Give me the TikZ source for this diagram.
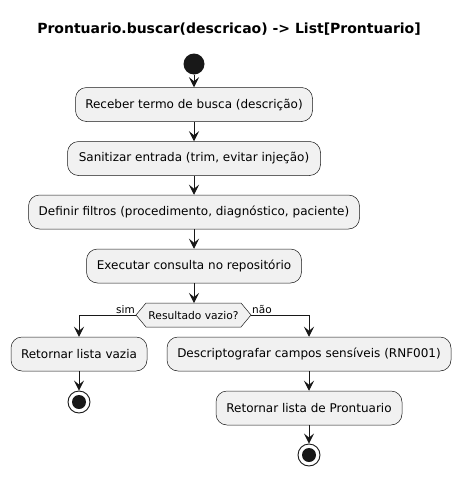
\documentclass[tikz,border=0pt]{standalone}
\usepackage{fontspec}
\setmainfont{DejaVu Sans}
\usetikzlibrary{arrows.meta}
\definecolor{fillc}{HTML}{F1F1F1}
\definecolor{linec}{HTML}{181818}
\tikzset{
  act/.style={draw=linec, line width=0.5pt, fill=fillc, rounded corners=11pt, minimum height=34pt, inner sep=0pt, font=\fontsize{12}{14}\selectfont, text=black},
  flow/.style={draw=linec, line width=0.9pt, -{Stealth[length=10pt, width=10pt, inset=4pt]}},
  lbl/.style={font=\fontsize{10.5}{12}\selectfont, inner sep=1pt}
}
\begin{document}
\begin{tikzpicture}[x=1pt,y=-1pt]
\useasboundingbox (0,0) rectangle (461,477);
\node[font=\bfseries\fontsize{14}{16}\selectfont] (title) at (229,29) {Prontuario.buscar(descricao) -> List[Prontuario]};
\node[circle, fill=linec, minimum size=21pt, inner sep=0pt] (start) at (194,64) {};
\node[act, minimum width=237pt] (b1) at (194,104.5) {Receber termo de busca (descrição)};
\node[act, minimum width=253pt] (b2) at (194,158.5) {Sanitizar entrada (trim, evitar injeção)};
\node[act, minimum width=331pt] (b3) at (194,212) {Definir filtros (procedimento, diagnóstico, paciente)};
\node[act, minimum width=215pt] (b4) at (194,266) {Executar consulta no repositório};
% decision hexagon
\draw[draw=linec, line width=0.5pt, fill=fillc] (136,315) -- (146,303) -- (241,303) -- (251,315) -- (241,327) -- (146,327) -- cycle;
\node[font=\fontsize{10.7}{12}\selectfont, inner sep=0pt] (dec) at (193.5,315.5) {Resultado vazio?};
\coordinate (decN) at (194,303);
\coordinate (decW) at (136,315);
\coordinate (decE) at (251,315);
\node[act, minimum width=136pt] (b5) at (79,354) {Retornar lista vazia};
\node[act, minimum width=284pt] (b6) at (309,354) {Descriptografar campos sensíveis (RNF001)};
\node[act, minimum width=186pt] (b7) at (309,408) {Retornar lista de Prontuario};
\node[circle, draw=linec, line width=0.9pt, fill=white, minimum size=22pt, inner sep=0pt] (e1) at (79,402) {};
\fill[linec] (e1.center) circle (7pt);
\node[circle, draw=linec, line width=0.9pt, fill=white, minimum size=22pt, inner sep=0pt] (e2) at (309,455) {};
\fill[linec] (e2.center) circle (7pt);
\draw[flow] (start) -- (b1);
\draw[flow] (b1) -- (b2);
\draw[flow] (b2) -- (b3);
\draw[flow] (b3) -- (b4);
\draw[flow] (b4) -- (decN);
\draw[flow] (decW) -| (b5.north);
\draw[flow] (decE) -| (b6.north);
\draw[flow] (b5) -- (e1);
\draw[flow] (b6) -- (b7);
\draw[flow] (b7) -- (e2);
\node[lbl, anchor=south east] (sim) at (decW) {sim};
\node[lbl, anchor=south west] (nao) at (decE) {não};
\end{tikzpicture}
\end{document}
